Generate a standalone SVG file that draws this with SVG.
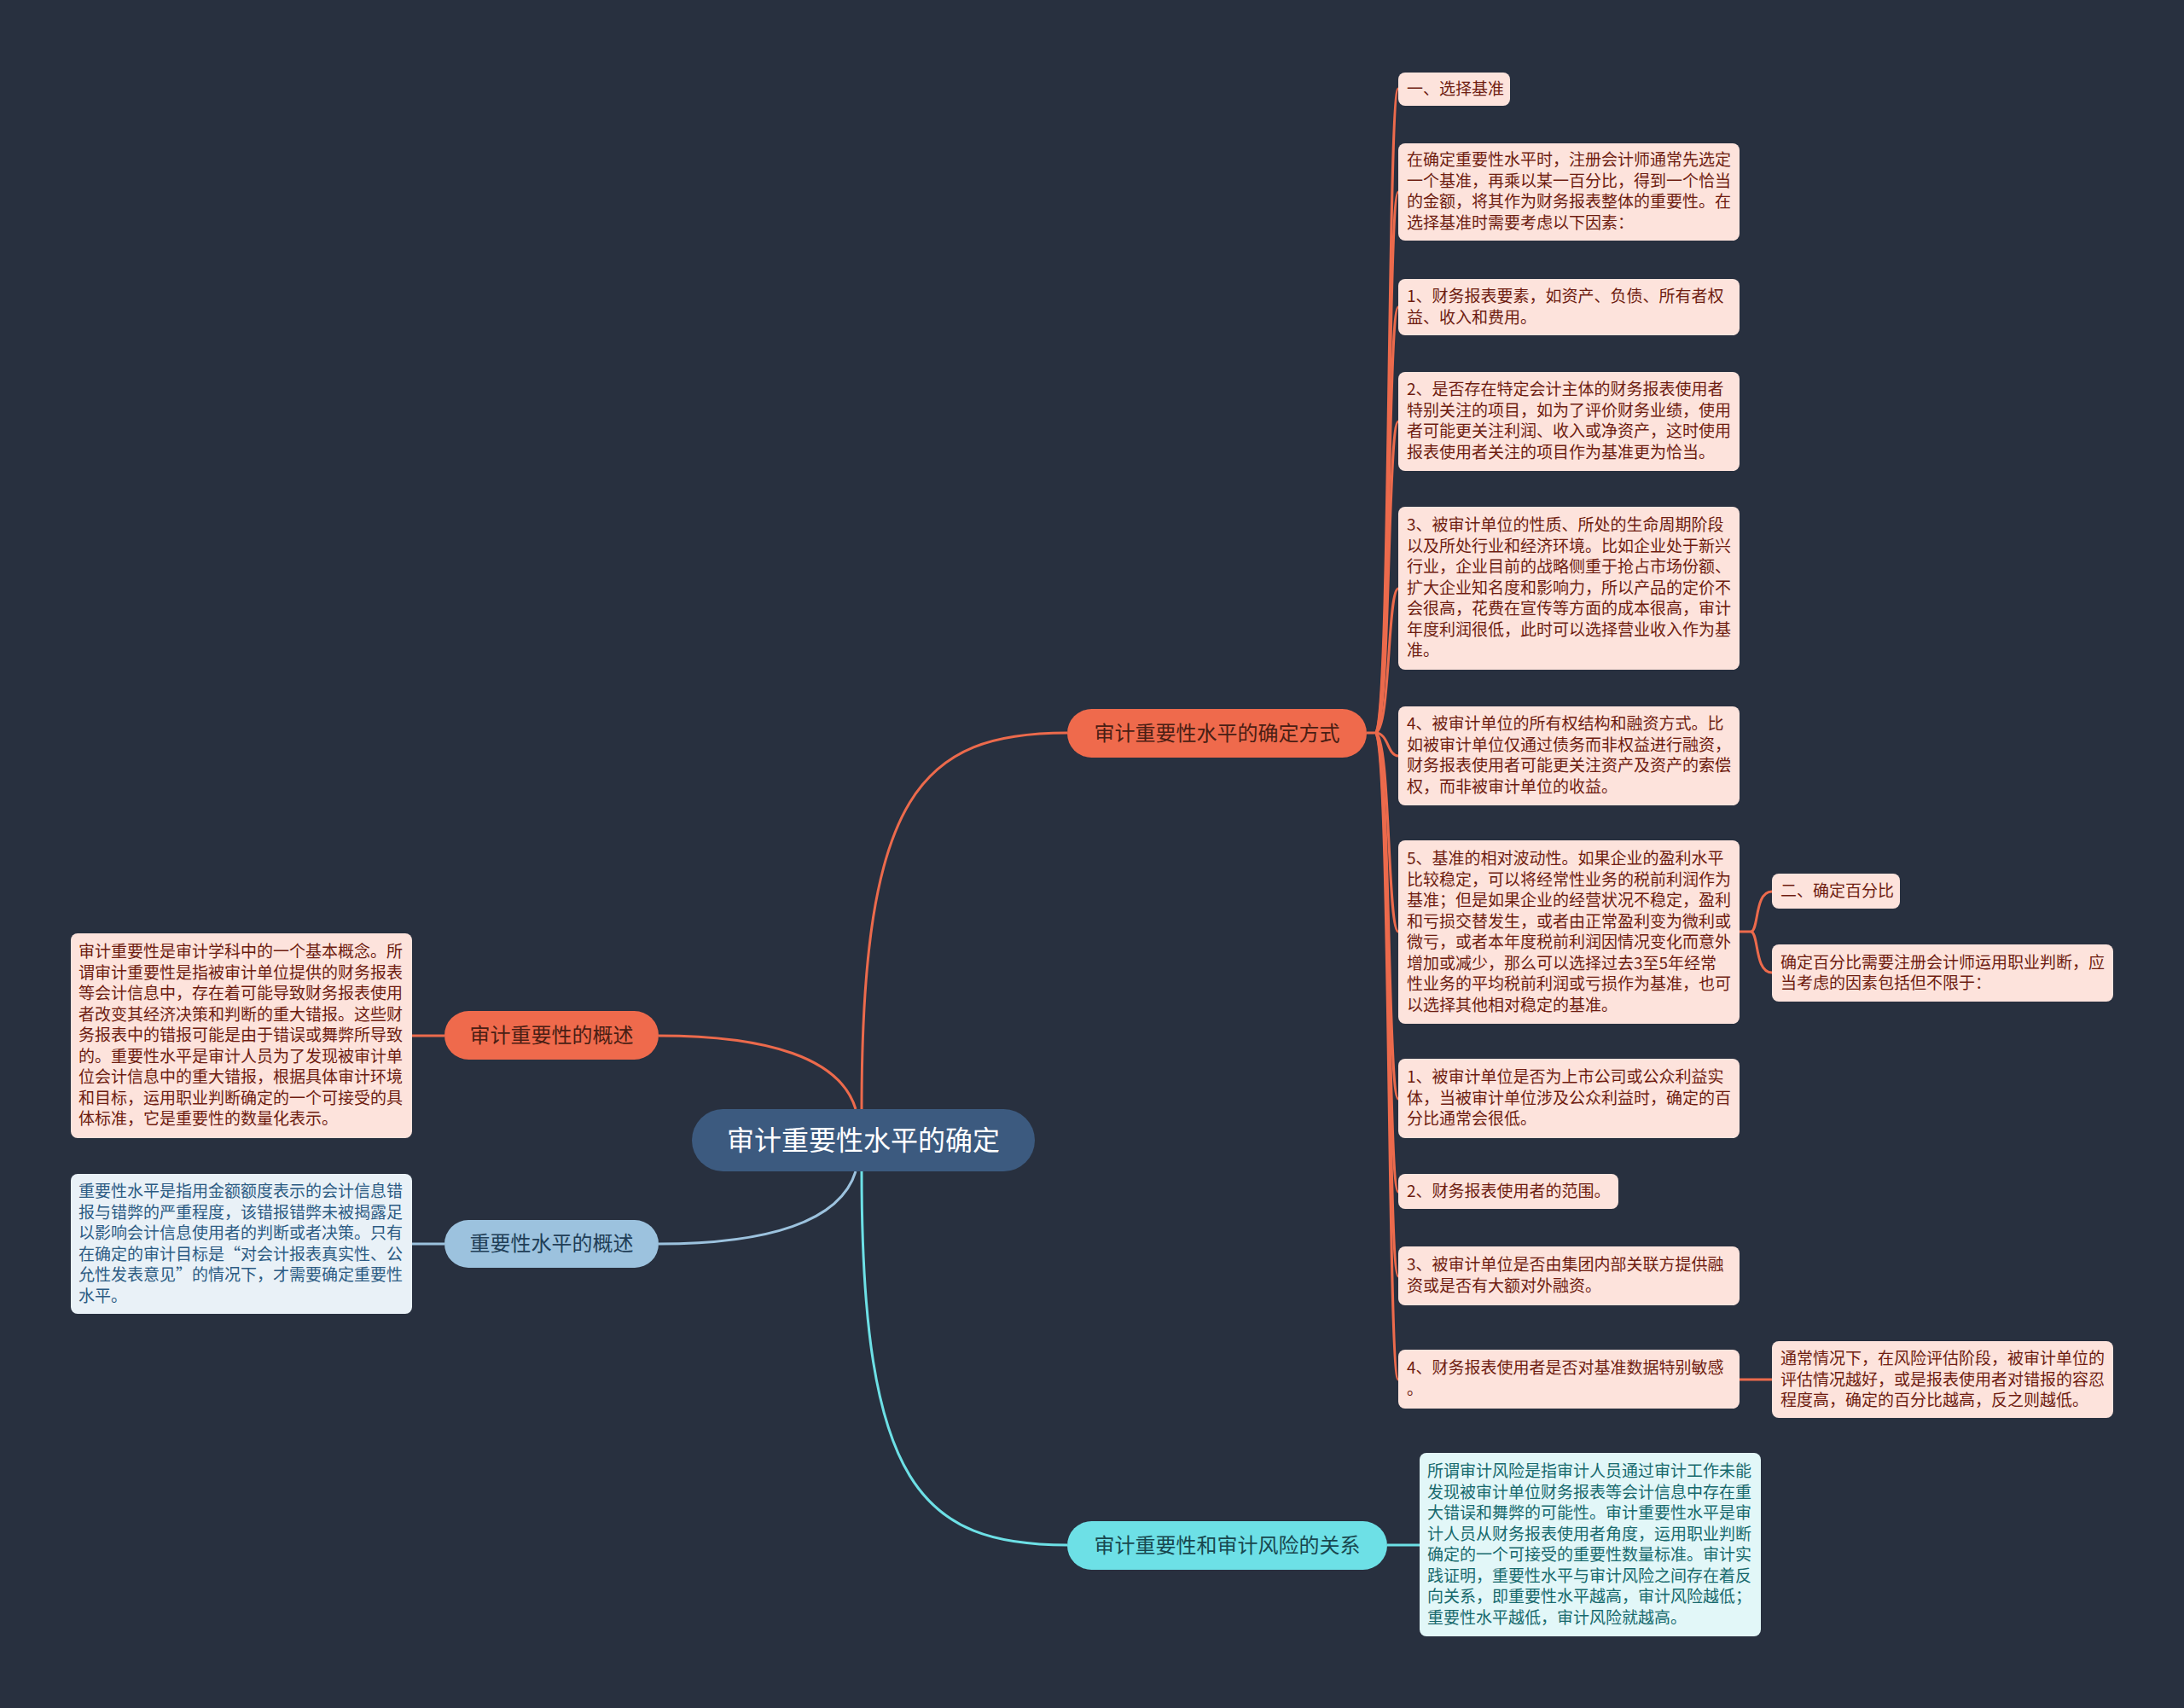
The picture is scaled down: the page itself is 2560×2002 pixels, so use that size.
<svg xmlns="http://www.w3.org/2000/svg" width="2560" height="2002" viewBox="0 0 2560 2002">
<style>
text{font-family:"Noto Sans CJK SC","Noto Sans",sans-serif;dominant-baseline:central;transform:translate(0px,-3px)}
.lf{font-size:19px}
.or{fill:#fde3dc}
.ort{fill:#6e1c10}
.cy{fill:#e2f7f8}
.cyt{fill:#17696d}
.bl{fill:#e9f1f7}
.blt{fill:#2c5b83}
.c-or{fill:none;stroke:#ec6a4c;stroke-width:3}
.c-cy{fill:none;stroke:#6de0e6;stroke-width:3}
.c-bl{fill:none;stroke:#9cc2de;stroke-width:3}
.b1{font-size:24px}
</style>
<rect width="2560" height="2002" fill="#28303f"/>
<g id="connectors">
<path class="c-or" d="M1010,1300 C1010,930 1080,859 1251,859"/>
<path class="c-cy" d="M1010,1373 C1010,1740 1080,1811 1251,1811"/>
<path class="c-or" d="M772,1214 C900,1214 985,1240 1003,1300"/>
<path class="c-bl" d="M772,1458 C900,1458 985,1432 1003,1373"/>
<path class="c-or" d="M521,1214 L483,1214"/>
<path class="c-bl" d="M521,1458 L483,1458"/>
<path class="c-cy" d="M1626,1811 L1664,1811"/>
<path class="c-or" d="M1602,859 L1612,859"/>
<path class="c-or" d="M1612,859 C1630,859 1626,104 1639,104"/>
<path class="c-or" d="M1612,859 C1630,859 1626,225 1639,225"/>
<path class="c-or" d="M1612,859 C1630,859 1626,360 1639,360"/>
<path class="c-or" d="M1612,859 C1630,859 1626,494 1639,494"/>
<path class="c-or" d="M1612,859 C1630,859 1626,690 1639,690"/>
<path class="c-or" d="M1612,859 C1628,859 1626,886 1639,886"/>
<path class="c-or" d="M1612,859 C1630,859 1626,1092 1639,1092"/>
<path class="c-or" d="M1612,859 C1630,859 1626,1288 1639,1288"/>
<path class="c-or" d="M1612,859 C1630,859 1626,1397 1639,1397"/>
<path class="c-or" d="M1612,859 C1630,859 1626,1496 1639,1496"/>
<path class="c-or" d="M1612,859 C1630,859 1626,1617 1639,1617"/>
<path class="c-or" d="M2039,1092 L2052,1092"/>
<path class="c-or" d="M2052,1092 C2062,1092 2056,1045 2077,1045"/>
<path class="c-or" d="M2052,1092 C2062,1092 2056,1140 2077,1140"/>
<path class="c-or" d="M2039,1617 L2077,1617"/>
</g>
<g id="root">
<rect x="811" y="1300" width="402" height="73" rx="36.5" fill="#3c5a7f"/>
<text x="1012" y="1337" font-size="32" fill="#ffffff" text-anchor="middle">审计重要性水平的确定</text>
</g>
<g id="b-method">
<rect x="1251" y="831" width="351" height="57" rx="28.5" fill="#ef6a4c"/>
<text x="1426.5" y="860" class="b1" fill="#4a1e14" text-anchor="middle">审计重要性水平的确定方式</text>
</g>
<g id="b-risk">
<rect x="1251" y="1783" width="375" height="57" rx="28.5" fill="#6de0e6"/>
<text x="1438.5" y="1812" class="b1" fill="#18474f" text-anchor="middle">审计重要性和审计风险的关系</text>
</g>
<g id="b-overview">
<rect x="521" y="1185" width="251" height="57" rx="28.5" fill="#ef6a4c"/>
<text x="646.5" y="1214" class="b1" fill="#4a1e14" text-anchor="middle">审计重要性的概述</text>
</g>
<g id="b-level">
<rect x="521" y="1430" width="251" height="56" rx="28" fill="#9cc2de"/>
<text x="646.5" y="1458" class="b1" fill="#213e57" text-anchor="middle">重要性水平的概述</text>
</g>
<g id="l-overview">
<rect x="83" y="1094" width="400" height="240" rx="8" class="or"/>
<text class="lf ort" x="92"><tspan x="92" y="1116">审计重要性是审计学科中的一个基本概念。所</tspan><tspan x="92" y="1140.5">谓审计重要性是指被审计单位提供的财务报表</tspan><tspan x="92" y="1165">等会计信息中，存在着可能导致财务报表使用</tspan><tspan x="92" y="1189.5">者改变其经济决策和判断的重大错报。这些财</tspan><tspan x="92" y="1214">务报表中的错报可能是由于错误或舞弊所导致</tspan><tspan x="92" y="1238.5">的。重要性水平是审计人员为了发现被审计单</tspan><tspan x="92" y="1263">位会计信息中的重大错报，根据具体审计环境</tspan><tspan x="92" y="1287.5">和目标，运用职业判断确定的一个可接受的具</tspan><tspan x="92" y="1312">体标准，它是重要性的数量化表示。</tspan></text>
</g>
<g id="l-level">
<rect x="83" y="1376" width="400" height="164" rx="8" class="bl"/>
<text class="lf blt" x="92"><tspan x="92" y="1397">重要性水平是指用金额额度表示的会计信息错</tspan><tspan x="92" y="1421.5">报与错弊的严重程度，该错报错弊未被揭露足</tspan><tspan x="92" y="1446">以影响会计信息使用者的判断或者决策。只有</tspan><tspan x="92" y="1470.5">在确定的审计目标是“对会计报表真实性、公</tspan><tspan x="92" y="1495">允性发表意见”的情况下，才需要确定重要性</tspan><tspan x="92" y="1519.5">水平。</tspan></text>
</g>
<g id="n1">
<rect x="1639" y="85" width="131" height="39" rx="8" class="or"/>
<text class="lf ort" x="1649" y="105">一、选择基准</text>
</g>
<g id="n2">
<rect x="1639" y="168" width="400" height="114" rx="8" class="or"/>
<text class="lf ort"><tspan x="1649" y="188">在确定重要性水平时，注册会计师通常先选定</tspan><tspan x="1649" y="212.5">一个基准，再乘以某一百分比，得到一个恰当</tspan><tspan x="1649" y="237">的金额，将其作为财务报表整体的重要性。在</tspan><tspan x="1649" y="261.5">选择基准时需要考虑以下因素：</tspan></text>
</g>
<g id="n3">
<rect x="1639" y="327" width="400" height="66" rx="8" class="or"/>
<text class="lf ort"><tspan x="1649" y="348">1、财务报表要素，如资产、负债、所有者权</tspan><tspan x="1649" y="372.5">益、收入和费用。</tspan></text>
</g>
<g id="n4">
<rect x="1639" y="436" width="400" height="116" rx="8" class="or"/>
<text class="lf ort"><tspan x="1649" y="457">2、是否存在特定会计主体的财务报表使用者</tspan><tspan x="1649" y="481.5">特别关注的项目，如为了评价财务业绩，使用</tspan><tspan x="1649" y="506">者可能更关注利润、收入或净资产，这时使用</tspan><tspan x="1649" y="530.5">报表使用者关注的项目作为基准更为恰当。</tspan></text>
</g>
<g id="n5">
<rect x="1639" y="594" width="400" height="191" rx="8" class="or"/>
<text class="lf ort"><tspan x="1649" y="616">3、被审计单位的性质、所处的生命周期阶段</tspan><tspan x="1649" y="640.5">以及所处行业和经济环境。比如企业处于新兴</tspan><tspan x="1649" y="665">行业，企业目前的战略侧重于抢占市场份额、</tspan><tspan x="1649" y="689.5">扩大企业知名度和影响力，所以产品的定价不</tspan><tspan x="1649" y="714">会很高，花费在宣传等方面的成本很高，审计</tspan><tspan x="1649" y="738.5">年度利润很低，此时可以选择营业收入作为基</tspan><tspan x="1649" y="763">准。</tspan></text>
</g>
<g id="n6">
<rect x="1639" y="828" width="400" height="116" rx="8" class="or"/>
<text class="lf ort"><tspan x="1649" y="849">4、被审计单位的所有权结构和融资方式。比</tspan><tspan x="1649" y="873.5">如被审计单位仅通过债务而非权益进行融资，</tspan><tspan x="1649" y="898">财务报表使用者可能更关注资产及资产的索偿</tspan><tspan x="1649" y="922.5">权，而非被审计单位的收益。</tspan></text>
</g>
<g id="n7">
<rect x="1639" y="985" width="400" height="215" rx="8" class="or"/>
<text class="lf ort"><tspan x="1649" y="1007">5、基准的相对波动性。如果企业的盈利水平</tspan><tspan x="1649" y="1031.5">比较稳定，可以将经常性业务的税前利润作为</tspan><tspan x="1649" y="1056">基准；但是如果企业的经营状况不稳定，盈利</tspan><tspan x="1649" y="1080.5">和亏损交替发生，或者由正常盈利变为微利或</tspan><tspan x="1649" y="1105">微亏，或者本年度税前利润因情况变化而意外</tspan><tspan x="1649" y="1129.5">增加或减少，那么可以选择过去3至5年经常</tspan><tspan x="1649" y="1154">性业务的平均税前利润或亏损作为基准，也可</tspan><tspan x="1649" y="1178.5">以选择其他相对稳定的基准。</tspan></text>
</g>
<g id="n8">
<rect x="1639" y="1241" width="400" height="93" rx="8" class="or"/>
<text class="lf ort"><tspan x="1649" y="1263">1、被审计单位是否为上市公司或公众利益实</tspan><tspan x="1649" y="1287.5">体，当被审计单位涉及公众利益时，确定的百</tspan><tspan x="1649" y="1312">分比通常会很低。</tspan></text>
</g>
<g id="n9">
<rect x="1639" y="1376" width="258" height="41" rx="8" class="or"/>
<text class="lf ort" x="1649" y="1397">2、财务报表使用者的范围。</text>
</g>
<g id="n10">
<rect x="1639" y="1461" width="400" height="69" rx="8" class="or"/>
<text class="lf ort"><tspan x="1649" y="1483">3、被审计单位是否由集团内部关联方提供融</tspan><tspan x="1649" y="1507.5">资或是否有大额对外融资。</tspan></text>
</g>
<g id="n11">
<rect x="1639" y="1582" width="400" height="69" rx="8" class="or"/>
<text class="lf ort"><tspan x="1649" y="1604">4、财务报表使用者是否对基准数据特别敏感</tspan><tspan x="1649" y="1628.5">。</tspan></text>
</g>
<g id="n12">
<rect x="2077" y="1024" width="150" height="41" rx="8" class="or"/>
<text class="lf ort" x="2087" y="1045">二、确定百分比</text>
</g>
<g id="n13">
<rect x="2077" y="1107" width="400" height="67" rx="8" class="or"/>
<text class="lf ort"><tspan x="2087" y="1128.5">确定百分比需要注册会计师运用职业判断，应</tspan><tspan x="2087" y="1153">当考虑的因素包括但不限于：</tspan></text>
</g>
<g id="n14">
<rect x="2077" y="1572" width="400" height="90" rx="8" class="or"/>
<text class="lf ort"><tspan x="2087" y="1593">通常情况下，在风险评估阶段，被审计单位的</tspan><tspan x="2087" y="1617.5">评估情况越好，或是报表使用者对错报的容忍</tspan><tspan x="2087" y="1642">程度高，确定的百分比越高，反之则越低。</tspan></text>
</g>
<g id="n15">
<rect x="1664" y="1703" width="400" height="215" rx="8" class="cy"/>
<text class="lf cyt"><tspan x="1673" y="1725">所谓审计风险是指审计人员通过审计工作未能</tspan><tspan x="1673" y="1749.5">发现被审计单位财务报表等会计信息中存在重</tspan><tspan x="1673" y="1774">大错误和舞弊的可能性。审计重要性水平是审</tspan><tspan x="1673" y="1798.5">计人员从财务报表使用者角度，运用职业判断</tspan><tspan x="1673" y="1823">确定的一个可接受的重要性数量标准。审计实</tspan><tspan x="1673" y="1847.5">践证明，重要性水平与审计风险之间存在着反</tspan><tspan x="1673" y="1872">向关系，即重要性水平越高，审计风险越低；</tspan><tspan x="1673" y="1896.5">重要性水平越低，审计风险就越高。</tspan></text>
</g>
</svg>
